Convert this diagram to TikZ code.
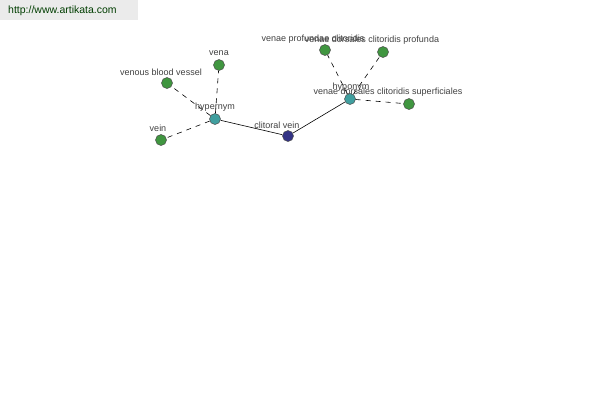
\documentclass[tikz,border=0pt]{standalone}
\usepackage{fontspec}
\setmainfont{Liberation Sans}
\begin{document}
\begin{tikzpicture}[x=1pt,y=-1pt,
  dot/.style={circle,draw=black!70,line width=0.5pt,minimum size=11pt,inner sep=0pt},
  leaf/.style={dot,fill=green!45!black!75},
  rel/.style={dot,fill=teal!75},
  root/.style={dot,fill=blue!40!black!80},
  lbl/.style={font=\fontsize{9}{10}\selectfont,text=black!75,inner sep=0pt},
  solidedge/.style={draw=black,line width=0.6pt},
  dashedge/.style={draw=black,line width=0.6pt,dash pattern=on 5pt off 5pt}]
\useasboundingbox (0,0) rectangle (600,400);
\fill[black!8] (0,0) rectangle (138,20);
\node[font=\fontsize{10.5}{12}\selectfont,text=black!70!green!80!black,anchor=west,inner sep=0pt] (wm) at (8,11) {http://www.artikata.com};
% nodes
\node[root] (cv) at (288,136) {};
\node[rel] (hyper) at (215,119) {};
\node[rel] (hypo) at (350,99) {};
\node[leaf] (vena) at (219,65) {};
\node[leaf] (vbv) at (167,83) {};
\node[leaf] (vein) at (161,140) {};
\node[leaf] (vpc) at (325,50) {};
\node[leaf] (vdcp) at (383,52) {};
\node[leaf] (vdcs) at (409,104) {};
% edges
\draw[solidedge] (hyper) -- (cv);
\draw[solidedge] (hypo) -- (cv);
\draw[dashedge] (hyper) -- (vena);
\draw[dashedge] (hyper) -- (vbv);
\draw[dashedge] (hyper) -- (vein);
\draw[dashedge] (hypo) -- (vpc);
\draw[dashedge] (hypo) -- (vdcp);
\draw[dashedge] (hypo) -- (vdcs);
% labels
\node[lbl] (lcv) at (277,125) {clitoral vein};
\node[lbl] (lhyper) at (215,107) {hypernym};
\node[lbl] (lhypo) at (351,87) {hyponym};
\node[lbl] (lvena) at (219,53) {vena};
\node[lbl] (lvbv) at (161,72) {venous blood vessel};
\node[lbl] (lvein) at (158,128) {vein};
\node[lbl] (lvpc) at (313,39) {venae profundae clitoridis};
\node[lbl] (lvdcp) at (372,40) {venae dorsales clitoridis profunda};
\node[lbl] (lvdcs) at (388,92) {venae dorsales clitoridis superficiales};
\end{tikzpicture}
\end{document}
